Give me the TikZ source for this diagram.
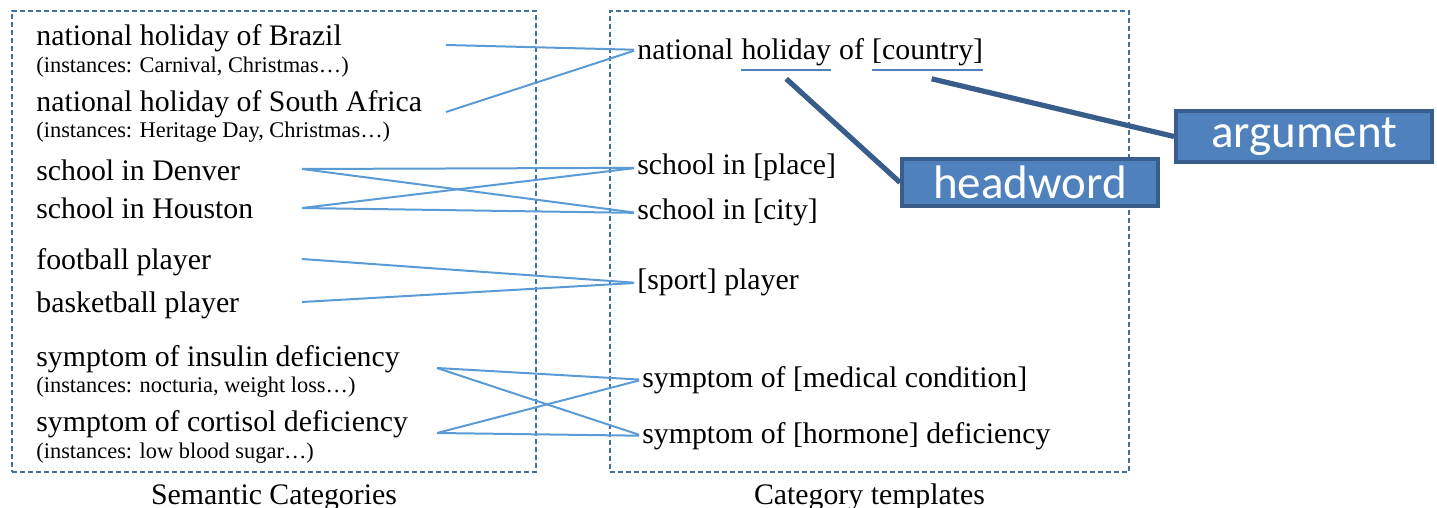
\documentclass[tikz,border=0pt]{standalone}
\usepackage{fontspec}
\setmainfont{Liberation Serif}
\newfontfamily\calib{Carlito}
\usetikzlibrary{positioning}
\definecolor{boxblue}{HTML}{41719C}
\definecolor{linkblue}{HTML}{5B9BD5}
\definecolor{tagfill}{HTML}{4F81BD}
\definecolor{tagdark}{HTML}{385D8A}
\tikzstyle{catbox}=[draw=boxblue, dash pattern=on 2.5pt off 1.5pt, line width=0.8pt]
\tikzstyle{cat}=[anchor=base west, inner sep=0pt, font=\fontsize{14.9}{16}\selectfont]
\tikzstyle{inst}=[anchor=base west, inner sep=0pt, font=\fontsize{11.2}{13}\selectfont]
\tikzstyle{tmpl}=[anchor=base west, inner sep=0pt, font=\fontsize{14.9}{16}\selectfont]
\tikzstyle{boxlabel}=[anchor=base, inner sep=0pt, font=\fontsize{14.9}{16}\selectfont]
\tikzstyle{link}=[draw, linkblue, line width=1pt, shorten >=1.5pt]
\tikzstyle{tagbox}=[draw=tagdark, line width=2pt, fill=tagfill, text=white, minimum width=128pt, font=\calib\fontsize{23.5}{26}\selectfont]
\tikzstyle{pointer}=[draw, tagdark, line width=2.6pt]
\tikzstyle{uline}=[draw, tagfill, line width=1pt]

\begin{document}
\begin{tikzpicture}[x=0.5pt, y=-0.5pt]

    \useasboundingbox (0,0) rectangle (1437,508);

    % the two dashed boxes
    \node[catbox, minimum width=262pt, minimum height=230.5pt] (semcat) at (274,241.5) {};
    \node[catbox, minimum width=259.5pt, minimum height=230.5pt] (templ) at (869.5,241.5) {};
    \node[boxlabel] at (274,504) {Semantic Categories};
    \node[boxlabel] at (869.5,504) {Category templates};

    % semantic categories
    \foreach \y/\name/\txt in {46/brazil/{national holiday of Brazil}, 112/safrica/{national holiday of South Africa},
                               181/denver/{school in Denver}, 219/houston/{school in Houston},
                               270/football/{football player}, 313/basket/{basketball player},
                               366/insulin/{symptom of insulin deficiency}, 431/cortisol/{symptom of cortisol deficiency}}
        \node[cat] (\name) at (36,\y) {\txt};

    \foreach \y/\name/\txt in {73/brazilI/{(instances: Carnival, Christmas\dots)}, 138/safricaI/{(instances: Heritage Day, Christmas\dots)},
                               393/insulinI/{(instances: nocturia, weight loss\dots)}, 458/cortisolI/{(instances: low blood sugar\dots)}}
        \node[inst] (\name) at (36,\y) {\txt};

    % category templates
    \node[tmpl] (natl) at (637,60) {national};
    \node[tmpl, base right=3.7pt of natl] (hol) {holiday};
    \node[tmpl, base right=3.7pt of hol] (of) {of};
    \node[tmpl, base right=3.7pt of of] (cty) {[country]};

    \foreach \x/\y/\name/\txt in {637/175/place/{school in [place]}, 637/220/city/{school in [city]},
                                  637/290/sport/{[sport] player},
                                  642/387/medical/{symptom of [medical condition]}, 642/443/hormone/{symptom of [hormone] deficiency}}
        \node[tmpl] (\name) at (\x,\y) {\txt};

    % loose ends of the links
    \foreach \x/\y/\name in {446/45/brazilR, 446/112/safricaR, 302/169/denverR, 302/208/houstonR,
                             302/259/footballR, 302/302/basketR, 437/368/insulinR, 437/433/cortisolR}
        \coordinate (\name) at (\x,\y);

    \foreach \source/\dest in {brazilR/natl, safricaR/natl, denverR/place, denverR/city, houstonR/place, houstonR/city,
                               footballR/sport, basketR/sport, insulinR/medical, insulinR/hormone,
                               cortisolR/medical, cortisolR/hormone}
        \path[link] (\source) -- (\dest.west);

    % headword and argument
    \path[uline] ([yshift=-1.5pt]hol.south west) -- ([yshift=-1.5pt]hol.south east);
    \path[uline] ([yshift=-1.5pt]cty.south west) -- ([yshift=-1.5pt]cty.south east);

    \node[tagbox, minimum height=22.5pt] (hw) at (1030,182.5) {headword};
    \node[tagbox, minimum height=21.5pt] (arg) at (1304,136.5) {argument};

    \path[pointer] ([yshift=-6pt]hol.south) -- (hw.west);
    \path[pointer] ([xshift=2pt, yshift=-6pt]cty.south) -- (arg.west);

\end{tikzpicture}
\end{document}
